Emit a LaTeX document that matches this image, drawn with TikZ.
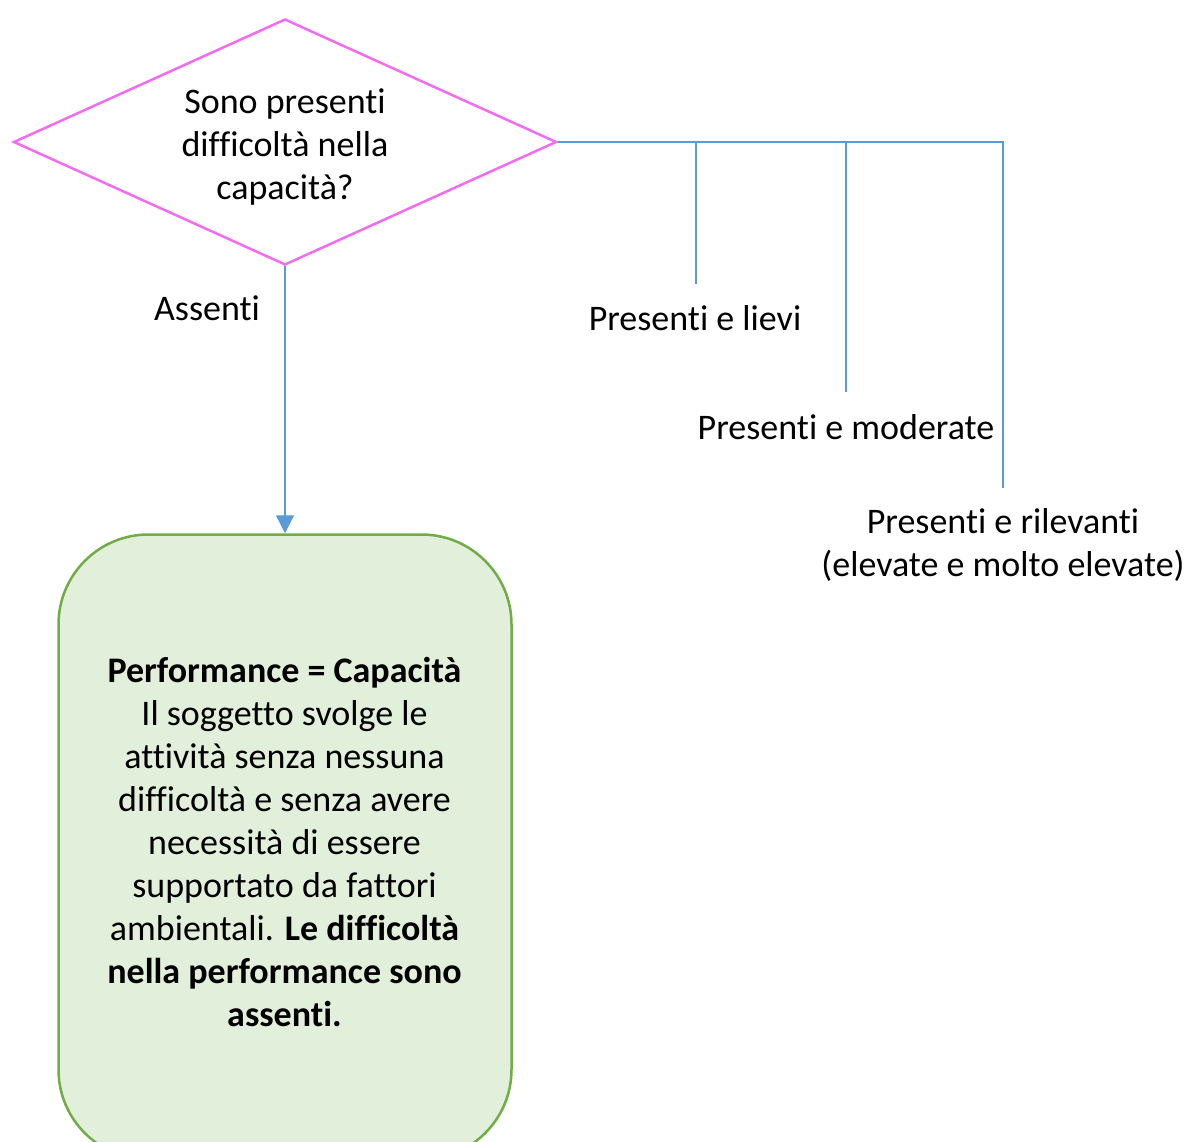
\documentclass[tikz,border=0pt]{standalone}
\usepackage{fontspec}
\setmainfont[Ligatures=NoCommon]{Carlito}
\usetikzlibrary{shapes.geometric,arrows.meta}
\definecolor{magen}{HTML}{F26CF2}
\definecolor{conblue}{HTML}{5B9BD5}
\definecolor{boxgreen}{HTML}{70AD47}
\definecolor{boxfill}{HTML}{E2EFDA}
\begin{document}
\begin{tikzpicture}[x=1pt,y=-1pt,
  txt/.style={font=\fontsize{36}{43}\selectfont, align=center, inner sep=0pt},
  decision/.style={diamond, draw=magen, line width=2.5pt, aspect=2.2, inner sep=0pt,
    minimum width=543pt, minimum height=246pt},
  resultbox/.style={rectangle, rounded corners=90pt, draw=boxgreen, fill=boxfill,
    line width=2.5pt, minimum width=453pt, minimum height=625pt},
  conn/.style={draw=conblue, line width=1.3pt},
  arr/.style={conn, -{Triangle[width=18pt,length=18pt]}}
]
\useasboundingbox (0,0) rectangle (1187,1142);
\clip (0,0) rectangle (1187,1142);

\node[decision] (q) at (285,142) {};
\node[txt] (qtext) at (285,147) {Sono presenti\\difficoltà nella\\capacità?};

\node[resultbox] (perf) at (285,847) {};
\node[txt] (perftext) at (284.5,842) {\textbf{Performance = Capacità}\\Il soggetto svolge le\\attività senza nessuna\\difficoltà e senza avere\\necessità di essere\\supportato da fattori\\ambientali. \textbf{Le difficoltà}\\\textbf{nella performance sono}\\\textbf{assenti.}};

\node[txt] (assenti) at (207,308) {Assenti};
\node[txt] (lievi) at (695,318) {Presenti e lievi};
\node[txt] (moder) at (846,427) {Presenti e moderate};
\node[txt] (rilev) at (1003,545) {Presenti e rilevanti\\(elevate e molto elevate)};

\coordinate (j1) at (696,142);
\coordinate (j2) at (846,142);
\coordinate (j3) at (1003,142);
\coordinate (e1) at (696,284);
\coordinate (e2) at (846,392);
\coordinate (e3) at (1003,488);

\draw[arr] (q.south) -- (perf.north);
\draw[conn] (q.east) -- (j3) -- (e3);
\draw[conn] (j1) -- (e1);
\draw[conn] (j2) -- (e2);
\end{tikzpicture}
\end{document}
